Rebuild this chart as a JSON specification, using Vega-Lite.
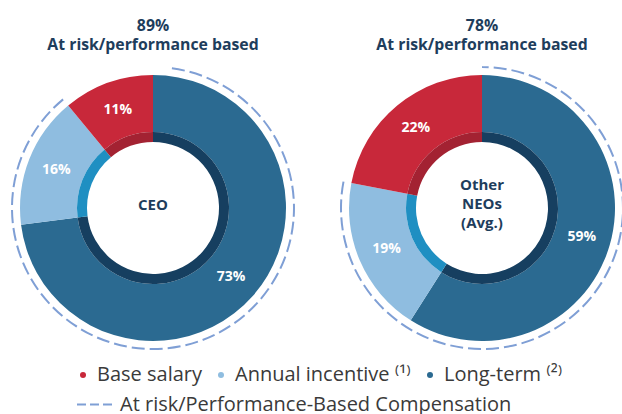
{
  "$schema": "https://vega.github.io/schema/vega-lite/v6.json",
  "padding": {"left": 8, "right": 0, "top": 18, "bottom": 60},
  "bounds": "flush",
  "datasets": {
    "pay": [
      {"group": "CEO", "component": "Long-term", "share": 0.73, "rank": 1, "at_risk": true, "risk_label": "At risk/Performance-Based Compensation"},
      {"group": "CEO", "component": "Annual incentive", "share": 0.16, "rank": 2, "at_risk": true, "risk_label": "At risk/Performance-Based Compensation"},
      {"group": "CEO", "component": "Base salary", "share": 0.11, "rank": 3, "at_risk": false, "risk_label": "Fixed"},
      {"group": "Other NEOs (Avg.)", "component": "Long-term", "share": 0.59, "rank": 1, "at_risk": true, "risk_label": "At risk/Performance-Based Compensation"},
      {"group": "Other NEOs (Avg.)", "component": "Annual incentive", "share": 0.19, "rank": 2, "at_risk": true, "risk_label": "At risk/Performance-Based Compensation"},
      {"group": "Other NEOs (Avg.)", "component": "Base salary", "share": 0.22, "rank": 3, "at_risk": false, "risk_label": "Fixed"}
    ]
  },
  "spacing": 49,
  "hconcat": [
    {
      "width": 280,
      "height": 290,
      "title": {"text": ["89%", "At risk/performance based"]},
      "data": {"name": "pay"},
      "transform": [{"filter": "datum.group == 'CEO'"}],
      "layer": [
        {
          "mark": {"type": "arc", "innerRadius": 76, "outerRadius": 133},
          "encoding": {
            "theta": {"field": "share", "type": "quantitative", "stack": true, "scale": {"domain": [0, 1], "nice": false}},
            "order": {"field": "rank", "type": "quantitative"},
            "color": {
              "field": "component", "type": "nominal",
              "scale": {"domain": ["Base salary", "Annual incentive", "Long-term"], "range": ["#c8283a", "#8fbde0", "#2b6a91"]},
              "legend": {
                "orient": "none", "legendX": 60, "legendY": 302, "direction": "horizontal", "title": null,
                "symbolType": "circle", "symbolSize": 36, "symbolStrokeWidth": 0,
                "labelFontSize": 20, "labelColor": "#3a3a3a", "labelFont": "Open Sans", "columnPadding": 9, "labelOffset": 4, "labelLimit": 400,
                "labelExpr": "datum.label == 'Annual incentive' ? 'Annual incentive ⁽¹⁾' : datum.label == 'Long-term' ? 'Long-term ⁽²⁾' : datum.label"
              }
            }
          }
        },
        {
          "mark": {"type": "arc", "innerRadius": 66, "outerRadius": 76},
          "encoding": {
            "theta": {"field": "share", "type": "quantitative", "stack": true},
            "order": {"field": "rank", "type": "quantitative"},
            "fill": {
              "field": "component", "type": "nominal",
              "scale": {"domain": ["Base salary", "Annual incentive", "Long-term"], "range": ["#a32232", "#1f8fc2", "#163f60"]},
              "legend": null
            }
          }
        },
        {
          "mark": {"type": "text", "radius": 104, "fontSize": 14, "fontWeight": "bold", "color": "white"},
          "encoding": {
            "theta": {"field": "share", "type": "quantitative", "stack": true},
            "order": {"field": "rank", "type": "quantitative"},
            "text": {"field": "share", "type": "quantitative", "format": ".0%"}
          }
        },
        {
          "transform": [{"filter": "datum.rank == 1"}],
          "mark": {"type": "text", "fontSize": 15, "fontWeight": "bold", "color": "#1e3d5c", "baseline": "middle", "dy": -3},
          "encoding": {"text": {"value": "CEO"}}
        },
        {
          "transform": [{"filter": "datum.at_risk"}, {"aggregate": [{"op": "sum", "field": "share", "as": "at_risk_share"}], "groupby": ["risk_label"]}],
          "mark": {
            "type": "arc", "innerRadius": 141, "outerRadius": 141, "filled": false, "strokeWidth": 2,
            "strokeDash": [13,5,13,5,13,5,13,5,13,5,13,5,13,5,13,5,13,5,13,5,13,5,13,5,13,5,13,5,13,5,13,5,13,5,13,5,13,5,13,5,13,5,13,5,13,5,13,5,13,5,13,5,13,5,13,5,13,5,13,5,13,5,13,5,13,5,13,5,13,5,13,5,13,5,13,5,13,5,13,5,13,5,13,5,13,2000]
          },
          "encoding": {
            "theta": {"field": "at_risk_share", "type": "quantitative", "stack": true},
            "stroke": {
              "field": "risk_label", "type": "nominal",
              "scale": {"range": ["#7f9fd5"]},
              "legend": {
                "orient": "none", "legendX": 63, "legendY": 323, "title": null,
                "symbolType": "stroke", "symbolSize": 1225, "symbolStrokeWidth": 2, "symbolDash": [9, 4],
                "labelFontSize": 20, "labelColor": "#3a3a3a", "labelFont": "Open Sans", "labelOffset": 7, "labelLimit": 500
              }
            }
          }
        }
      ]
    },
    {
      "width": 280,
      "height": 290,
      "title": {"text": ["78%", "At risk/performance based"]},
      "data": {"name": "pay"},
      "transform": [{"filter": "datum.group == 'Other NEOs (Avg.)'"}],
      "layer": [
        {
          "mark": {"type": "arc", "innerRadius": 76, "outerRadius": 133},
          "encoding": {
            "theta": {"field": "share", "type": "quantitative", "stack": true, "scale": {"domain": [0, 1], "nice": false}},
            "order": {"field": "rank", "type": "quantitative"},
            "color": {"field": "component", "type": "nominal"}
          }
        },
        {
          "mark": {"type": "arc", "innerRadius": 66, "outerRadius": 76},
          "encoding": {
            "theta": {"field": "share", "type": "quantitative", "stack": true},
            "order": {"field": "rank", "type": "quantitative"},
            "fill": {"field": "component", "type": "nominal", "legend": null}
          }
        },
        {
          "mark": {"type": "text", "radius": 104, "fontSize": 14, "fontWeight": "bold", "color": "white"},
          "encoding": {
            "theta": {"field": "share", "type": "quantitative", "stack": true},
            "order": {"field": "rank", "type": "quantitative"},
            "text": {"field": "share", "type": "quantitative", "format": ".0%"}
          }
        },
        {
          "transform": [{"filter": "datum.rank == 1"}],
          "mark": {"type": "text", "fontSize": 15, "fontWeight": "bold", "color": "#1e3d5c", "baseline": "middle", "lineHeight": 19, "dy": -23},
          "encoding": {"text": {"value": ["Other", "NEOs", "(Avg.)"]}}
        },
        {
          "transform": [{"filter": "datum.at_risk"}, {"aggregate": [{"op": "sum", "field": "share", "as": "at_risk_share"}], "groupby": ["risk_label"]}],
          "mark": {
            "type": "arc", "innerRadius": 141, "outerRadius": 141, "filled": false, "strokeWidth": 2,
            "strokeDash": [13,5,13,5,13,5,13,5,13,5,13,5,13,5,13,5,13,5,13,5,13,5,13,5,13,5,13,5,13,5,13,5,13,5,13,5,13,5,13,5,13,5,13,5,13,5,13,5,13,5,13,5,13,5,13,5,13,5,13,5,13,5,13,5,13,5,13,5,13,5,13,5,13,5,13,5,7,2000]
          },
          "encoding": {
            "theta": {"field": "at_risk_share", "type": "quantitative", "stack": true},
            "stroke": {"field": "risk_label", "type": "nominal"}
          }
        }
      ]
    }
  ],
  "resolve": {
    "scale": {"color": "shared", "fill": "shared", "stroke": "shared", "theta": "independent"},
    "legend": {"color": "shared", "stroke": "shared"}
  },
  "config": {
    "view": {"stroke": null},
    "font": "Open Sans",
    "title": {"anchor": "middle", "fontSize": 15.8, "fontWeight": "bold", "color": "#1e3d5c", "lineHeight": 19, "offset": 9, "font": "Open Sans"}
  }
}
